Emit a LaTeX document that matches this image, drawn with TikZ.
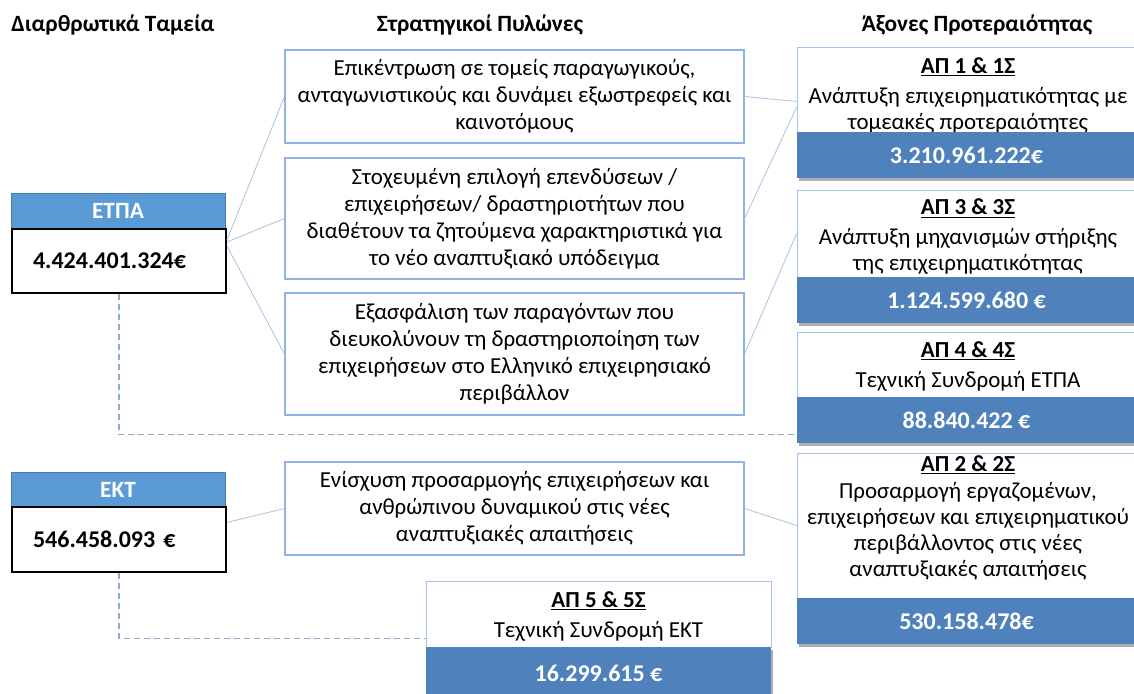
\documentclass[tikz,border=0pt]{standalone}
\usepackage{fontspec}
\setmainfont{Carlito}
\usetikzlibrary{shadows}

\definecolor{fundblue}{HTML}{5B9BD5}
\definecolor{apblue}{HTML}{4F81BD}
\definecolor{pilblue}{HTML}{8EB4E3}
\definecolor{linkblue}{HTML}{A9C2E0}
\definecolor{dashblue}{HTML}{8FA9CC}

\begin{document}
\begin{tikzpicture}[
    x=0.75pt, y=-0.75pt,
    every node/.style={font=\fontsize{17.2}{19.5}\selectfont},
    head/.style={font=\fontsize{17.5}{19.5}\selectfont\bfseries},
    fundhead/.style={fill=fundblue, draw=fundblue!80!black, line width=0.4pt,
        text=white, font=\fontsize{17.5}{19.5}\selectfont\bfseries, minimum width=160.5pt},
    fundval/.style={fill=white, draw=black, line width=1.3pt, minimum width=160.5pt,
        text width=129pt, inner xsep=15.75pt, align=left, font=\fontsize{18}{19.5}\selectfont\bfseries},
    pillar/.style={fill=white, draw=pilblue, line width=0.8pt, minimum width=344.25pt,
        align=center, font=\fontsize{17.2}{20.25}\selectfont},
    apbox/.style={fill=white, draw=pilblue!80, line width=0.6pt, minimum width=254.25pt},
    aptext/.style={align=center, inner sep=0pt},
    apval/.style={fill=apblue, text=white, minimum width=254.25pt, minimum height=34.5pt,
        font=\fontsize{18}{19.5}\selectfont\bfseries,
        drop shadow={shadow xshift=1.5pt, shadow yshift=-2.5pt, opacity=0.45, fill=black!70}},
    link/.style={draw=linkblue, line width=0.6pt},
    fundlink/.style={draw=dashblue, line width=0.8pt, dash pattern=on 4.5pt off 3pt}
]
\clip (0,0) rectangle (1134,693);

% titles
\node[head] (tfund) at (113,25) {Διαρθρωτικά Ταμεία};
\node[head] (tpil) at (480,25) {Στρατηγικοί Πυλώνες};
\node[head] (tax) at (977,25) {Άξονες Προτεραιότητας};

% funds
\node[fundhead, minimum height=27pt] (etpa) at (118,211) {ΕΤΠΑ};
\node[fundval, minimum height=48pt] (etpav) at (119,261) {4.424.401.324€};
\node[fundhead, minimum height=26.25pt] (ekt) at (118,489.5) {ΕΚΤ};
\node[fundval, minimum height=48.75pt] (ektv) at (119,539.5) {546.458.093 €};

% pillars
\node[pillar, minimum height=69.75pt] (p1) at (514.5,96.5)
    {Επικέντρωση σε τομείς παραγωγικούς,\\ ανταγωνιστικούς και δυνάμει εξωστρεφείς και\\ καινοτόμους};
\node[pillar, minimum height=90.75pt] (p2) at (514.5,218.5)
    {Στοχευμένη επιλογή επενδύσεων /\\ επιχειρήσεων/ δραστηριοτήτων που\\ διαθέτουν τα ζητούμενα χαρακτηριστικά για\\ το νέο αναπτυξιακό υπόδειγμα};
\node[pillar, minimum height=91.5pt] (p3) at (514.5,354)
    {Εξασφάλιση των παραγόντων που\\ διευκολύνουν τη δραστηριοποίηση των\\ επιχειρήσεων στο Ελληνικό επιχειρησιακό\\ περιβάλλον};
\node[pillar, minimum height=69.75pt] (p4) at (514.5,508.5)
    {Ενίσχυση προσαρμογής επιχειρήσεων και\\ ανθρώπινου δυναμικού στις νέες\\ αναπτυξιακές απαιτήσεις};

% priority axes
\node[apbox, minimum height=63.75pt] (ap1) at (966.5,89.5) {};
\node[aptext] (ap1t) at (968,95)
    {\underline{\textbf{ΑΠ 1 \& 1Σ}}\\[3pt] Ανάπτυξη επιχειρηματικότητας με\\ τομεακές προτεραιότητες};
\node[apval] (ap1v) at (966.5,155) {3.210.961.222€};

\node[apbox, minimum height=65.25pt] (ap3) at (966.5,233.5) {};
\node[aptext] (ap3t) at (968,237)
    {\underline{\textbf{ΑΠ 3 \& 3Σ}}\\[3pt] Ανάπτυξη μηχανισμών στήριξης\\ της επιχειρηματικότητας};
\node[apval] (ap3v) at (966.5,300) {1.124.599.680 €};

\node[apbox, minimum height=48.75pt] (ap4) at (966.5,364.5) {};
\node[aptext] (ap4t) at (968,366)
    {\underline{\textbf{ΑΠ 4 \& 4Σ}}\\[3pt] Τεχνική Συνδρομή ΕΤΠΑ};
\node[apval] (ap4v) at (966.5,420) {88.840.422 €};

\node[apbox, minimum height=108.75pt] (ap2) at (966.5,525.5) {};
\node[aptext] (ap2t) at (968,518)
    {\underline{\textbf{ΑΠ 2 \& 2Σ}}\\[1pt] Προσαρμογή εργαζομένων,\\ επιχειρήσεων και επιχειρηματικού\\ περιβάλλοντος στις νέες\\ αναπτυξιακές απαιτήσεις};
\node[apval] (ap2v) at (966.5,621) {530.158.478€};

\node[apbox, minimum width=258.75pt, minimum height=49.5pt] (ap5) at (598.5,614) {};
\node[aptext] (ap5t) at (598.5,616)
    {\underline{\textbf{ΑΠ 5 \& 5Σ}}\\[3pt] Τεχνική Συνδρομή ΕΚΤ};
\node[apval, minimum width=258.75pt, minimum height=39.75pt] (ap5v) at (598.5,673.5) {16.299.615 €};

% connectors
\draw[link] (etpav.11) -- (p1.west);
\draw[link] (etpav.10) -- (p2.west);
\draw[link] (etpav.8) -- (p3.west);
\draw[link] (ektv.9) -- (p4.west);
\draw[link] (p1.east) -- (ap1.184);
\draw[link] (p2.east) -- (ap1.186);
\draw[link] (p3.east) -- (ap3.west);
\draw[link] (p4.east) -- (ap2.west);

\draw[fundlink] (etpav.south) |- (ap4v.185);
\draw[fundlink] (ektv.south) |- (ap5.188);
\end{tikzpicture}
\end{document}
